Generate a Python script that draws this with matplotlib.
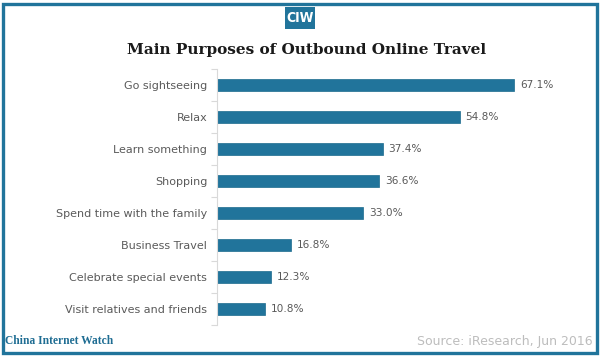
import matplotlib
matplotlib.use("Agg")
import matplotlib.pyplot as plt
from matplotlib.patches import Rectangle
import numpy as np

categories = ["Go sightseeing", "Relax", "Learn something", "Shopping",
              "Spend time with the family", "Business Travel",
              "Celebrate special events", "Visit relatives and friends"]
values = [67.1, 54.8, 37.4, 36.6, 33.0, 16.8, 12.3, 10.8]

W, H = 600, 356
DPI = 100
BLUE = "#21749b"
GRAY = "#5a5a5a"

fig = plt.figure(figsize=(W / DPI, H / DPI), dpi=DPI)
fig.patch.set_facecolor("white")

def fx(px): return px / W
def fy(py): return 1 - py / H

# axes in pixel geometry
ax_left, ax_right, ax_top, ax_bot = 217, 560, 69, 325
ax = fig.add_axes([fx(ax_left), fy(ax_bot), fx(ax_right - ax_left), (ax_bot - ax_top) / H])
n = len(categories)
y = np.arange(n)
ax.barh(y, values, height=0.36, color=BLUE, edgecolor="#1c6a8e", linewidth=0.5)
ax.set_ylim(n - 0.5, -0.5)
ax.set_xlim(0, (ax_right - ax_left) / 4.43)
for s in ["top", "right", "bottom"]:
    ax.spines[s].set_visible(False)
ax.spines["left"].set_color("#d9d9d9")
ax.spines["left"].set_linewidth(0.8)
ax.set_xticks([])
ax.set_yticks(y)
ax.set_yticklabels(categories, fontsize=8, color=GRAY, family="DejaVu Sans")
ax.tick_params(axis="y", which="major", length=0, pad=7)
ax.set_yticks(np.arange(-0.5, n, 1.0), minor=True)
ax.tick_params(axis="y", which="minor", length=4, color="#d9d9d9", width=0.8)
ax.patch.set_alpha(0)
for yi, v in zip(y, values):
    ax.text(v + 1.3, yi, f"{v:.1f}%", va="center", ha="left", fontsize=7.6, color=GRAY)

# title
fig.text(fx(307), fy(50), "Main Purposes of Outbound Online Travel", ha="center", va="center",
         fontsize=11, fontweight="bold", family="DejaVu Serif", color="#1a1a1a")

# CIW logo
fig.patches.append(Rectangle((fx(285), fy(29)), fx(30), (29 - 7) / H, transform=fig.transFigure,
                             facecolor=BLUE, edgecolor="none"))
fig.text(fx(300), fy(18), "CIW", ha="center", va="center", fontsize=10, fontweight="bold",
         color="white", family="DejaVu Sans", stretch="condensed")

# footer
fig.text(fx(5), fy(341), "China Internet Watch", ha="left", va="center", fontsize=8.3,
         fontweight="bold", family="Liberation Serif", color="#1f6d93")
fig.text(fx(593), fy(341), "Source: iResearch, Jun 2016", ha="right", va="center", fontsize=9,
         color="#bdbdbd")

# frame
fig.patches.append(Rectangle((fx(2.5), fy(352.5)), fx(594), 349 / H, transform=fig.transFigure,
                             facecolor="none", edgecolor=BLUE, linewidth=2.4))

fig.savefig("out.png", dpi=DPI)
